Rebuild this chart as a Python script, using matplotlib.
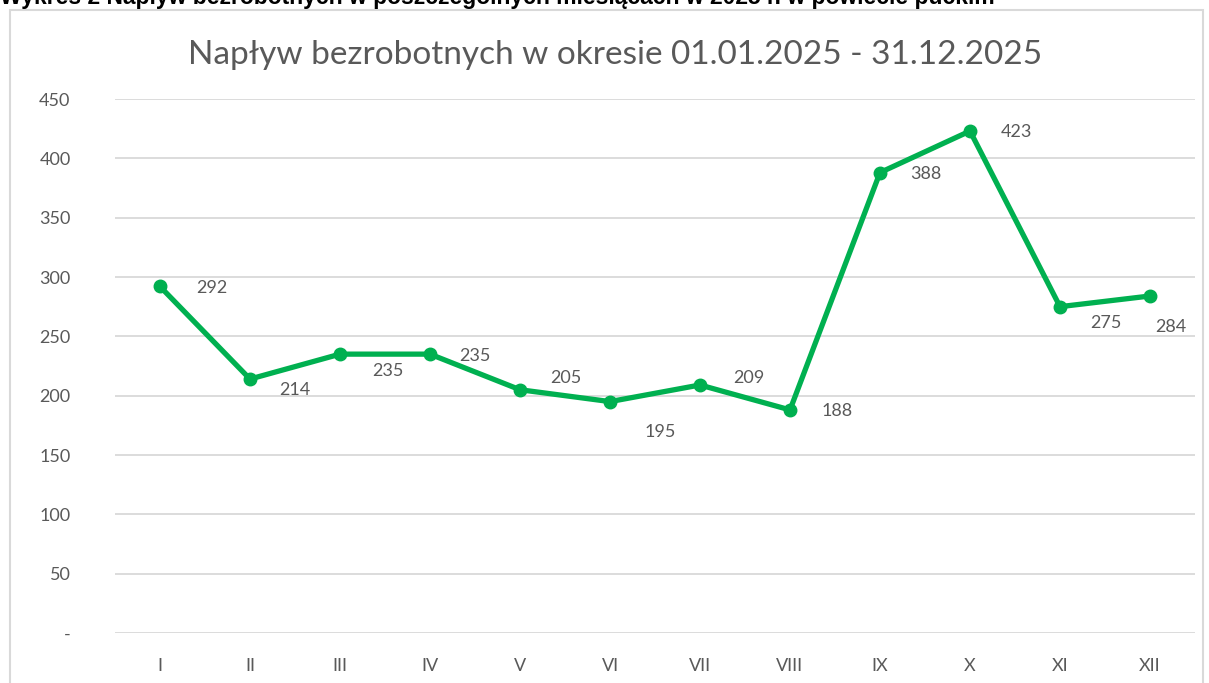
import matplotlib.pyplot as plt
from matplotlib.patches import Rectangle

# Data
months = ['I', 'II', 'III', 'IV', 'V', 'VI', 'VII', 'VIII', 'IX', 'X', 'XI', 'XII']
inflow = [292, 214, 235, 235, 205, 195, 209, 188, 388, 423, 275, 284]
y_ticks = [0, 50, 100, 150, 200, 250, 300, 350, 400, 450]
y_tick_labels = ['-', '50', '100', '150', '200', '250', '300', '350', '400', '450']

# label offsets in pixels (x right, y up)
label_offsets = [(52, -2), (45, -11), (48, -17), (45, -2), (46, 12), (50, -30),
                 (49, 7), (47, -1), (46, -1), (46, -1), (46, -16), (21, -31)]

plt.rcParams['font.family'] = ['Lato', 'DejaVu Sans']

line_color = '#00B050'
text_color = '#595959'
grid_color = '#d9d9d9'

fig = plt.figure(figsize=(12.09, 6.83), dpi=100)
W, H = 1209, 683

# outer chart box
fig.patches.append(Rectangle((10 / W, -0.01), (1203 - 10) / W, 1 - 10 / H + 0.01,
                             transform=fig.transFigure, fill=False,
                             edgecolor=grid_color, linewidth=1.5))

# caption cut at the top (as in the source)
fig.text(0.0, 1 - 4 / H, 'Wykres 2 Napływ bezrobotnych w poszczególnych miesiącach w 2025 r. w powiecie puckim',
         ha='left', va='baseline', fontsize=16.5, fontweight='bold', color='black',
         family=['Liberation Sans', 'DejaVu Sans'])

ax = fig.add_axes([115 / W, 1 - 633 / H, (1195 - 115) / W, (633 - 99) / H])

x = range(len(months))
ax.plot(x, inflow, color=line_color, linewidth=3.8, marker='o', markersize=9,
        solid_capstyle='round', solid_joinstyle='round', zorder=3)

for i, (v, off) in enumerate(zip(inflow, label_offsets)):
    ax.annotate(str(v), (i, v), xytext=off, textcoords='offset pixels',
                ha='center', va='center', fontsize=13, color=text_color)

ax.set_xlim(-0.5, len(months) - 0.5)
ax.set_ylim(0, 450)
ax.set_yticks(y_ticks)
ax.set_yticklabels(y_tick_labels)
ax.set_xticks(list(x))
ax.set_xticklabels(months)
ax.grid(axis='y', color=grid_color, linewidth=1.3)
ax.set_axisbelow(True)
for s in ax.spines.values():
    s.set_visible(False)
ax.tick_params(axis='both', length=0, colors=text_color, labelsize=13)
ax.tick_params(axis='y', pad=32)
ax.tick_params(axis='x', pad=18)

fig.text(615 / W, 1 - 55 / H, 'Napływ bezrobotnych w okresie 01.01.2025 - 31.12.2025',
         ha='center', va='center', fontsize=24, color=text_color)

fig.savefig('out.png', dpi=100)
